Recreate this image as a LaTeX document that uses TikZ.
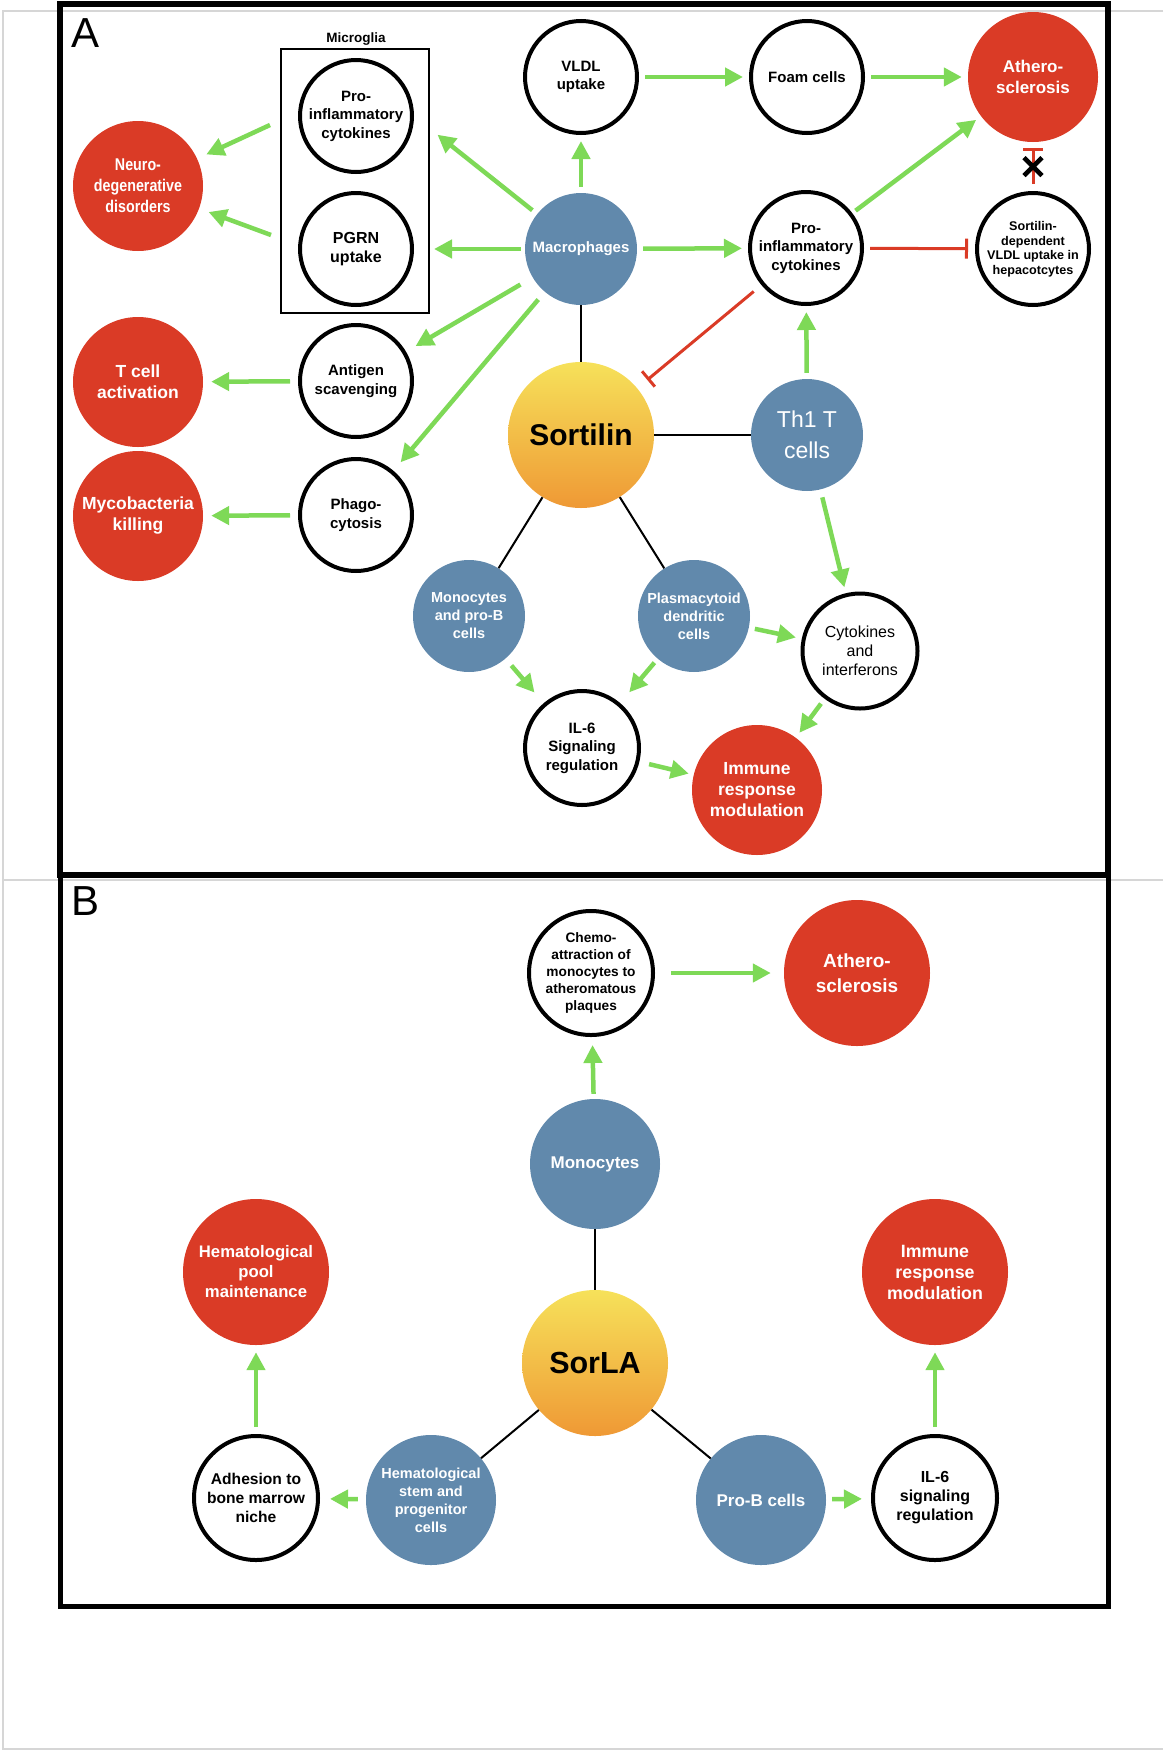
\documentclass[tikz,border=0pt]{standalone}
\usepackage{fontspec}
\setmainfont{Liberation Sans}
\newfontfamily\narrowsans{Liberation Sans}[FakeStretch=0.84]
\usetikzlibrary{arrows.meta}

\definecolor{cellblue}{HTML}{6189AC}
\definecolor{disred}{HTML}{DA3B26}
\definecolor{actgreen}{HTML}{7ED957}
\definecolor{hubtop}{HTML}{F6E15A}
\definecolor{hubbot}{HTML}{EF9935}
\definecolor{pagegray}{HTML}{D6D6D6}

\tikzset{
  effect/.style={circle, draw=black, line width=4pt, fill=white, minimum size=112pt,
    inner sep=0pt, align=center, font=\bfseries\fontsize{15}{18.5}\selectfont},
  cell/.style={circle, fill=cellblue, text=white, minimum size=112pt, inner sep=0pt,
    align=center, font=\bfseries\fontsize{14.5}{18}\selectfont},
  disease/.style={circle, fill=disred, text=white, minimum size=130pt, inner sep=0pt,
    align=center, font=\bfseries\fontsize{17.5}{21}\selectfont},
  hub/.style={circle, top color=hubtop, bottom color=hubbot, minimum size=146pt,
    inner sep=0pt, font=\bfseries\fontsize{30}{36}\selectfont},
  act/.style={draw=actgreen, line width=4.5pt, -{Triangle[length=18pt,width=18pt]},
    shorten <=6pt, shorten >=6pt},
  inh/.style={draw=disred, line width=3pt, -{Bar[width=20pt,line width=3pt]},
    shorten <=6pt, shorten >=6pt},
  link/.style={draw=black, line width=2pt},
  xmark/.style={rectangle, minimum size=15pt, inner sep=0pt},
  panel/.style={anchor=base west, inner sep=0pt, font=\fontsize{42}{48}\selectfont},
}

\begin{document}
\begin{tikzpicture}[x=1pt, y=-1pt]
    \useasboundingbox (0,0) rectangle (1163,1751);

    % page edges of the screenshot
    \draw[pagegray, line width=1.5pt] (1163,11) -- (3,11) -- (3,1749) -- (1163,1749);
    \draw[pagegray, line width=1.5pt] (3,880) -- (1163,880);

    \draw[line width=6pt] (59.5,4) rectangle (1108,874.5);
    \draw[line width=5pt] (60,874.5) rectangle (1108,1606.5);
    \node[panel] (labA) at (71,47) {A};
    \node[panel] (labB) at (71,915) {B};

    % panel A
    \node[font=\bfseries\fontsize{13.5}{16}\selectfont] (mglabel) at (356,39) {Microglia};
    \node[draw, line width=2.5pt, minimum width=148pt, minimum height=264pt, inner sep=0pt]
        (mgbox) at (355,181) {};
    \node[effect] (proinfMG) at (356,116) {Pro-\\inflammatory\\cytokines};
    \node[effect, font=\bfseries\fontsize{16}{19}\selectfont] (pgrn) at (356,249) {PGRN\\uptake};
    \node[effect] (vldl) at (581,77) {VLDL\\uptake};
    \node[effect] (foam) at (807,77) {Foam cells};
    \node[disease, font=\bfseries\fontsize{17}{21}\selectfont] (atheroA) at (1033,77) {Athero-\\sclerosis};
    \node[disease, font=\narrowsans\bfseries\fontsize{17}{21}\selectfont] (neuro) at (138,186)
        {Neuro-\\degenerative\\disorders};
    \node[cell, font=\bfseries\fontsize{15}{18}\selectfont] (macro) at (581,249) {Macrophages};
    \node[effect] (proinf) at (806,248) {Pro-\\inflammatory\\cytokines};
    \node[effect, font=\bfseries\fontsize{12.6}{14.5}\selectfont] (sortdep) at (1033,249)
        {Sortilin-\\dependent\\VLDL uptake in\\hepacotcytes};
    \node[disease] (tcell) at (138,382) {T cell\\activation};
    \node[effect] (antigen) at (356,381) {Antigen\\scavenging};
    \node[hub] (sortilin) at (581,435) {Sortilin};
    \node[cell, font=\fontsize{23}{31}\selectfont] (th1) at (807,435) {Th1 T\\cells};
    \node[disease] (myco) at (138,516) {Mycobacteria\\killing};
    \node[effect] (phago) at (356,515) {Phago-\\cytosis};
    \node[cell] (monoB) at (469,616) {Monocytes\\and pro-B\\cells};
    \node[cell] (pdc) at (694,616) {Plasmacytoid\\dendritic\\cells};
    \node[effect, minimum size=115pt, font=\fontsize{16}{19}\selectfont] (cytoifn) at (860,651)
        {Cytokines\\and\\interferons};
    \node[effect, minimum size=114pt] (ilsixA) at (582,748) {IL-6\\Signaling\\regulation};
    \node[disease] (immuneA) at (757,790) {Immune\\response\\modulation};

    \coordinate (mgA) at (270,125);
    \coordinate (mgB) at (271,235);

    \draw[act, shorten <=0pt, shorten >=10pt] (mgA) -- (neuro);
    \draw[act, shorten <=0pt, shorten >=10pt] (mgB) -- (neuro);
    \draw[act, shorten >=30pt] (macro) -- (proinfMG.east);
    \draw[act, shorten <=4pt, shorten >=20pt] (macro) -- (pgrn);
    \draw[act] (macro) -- (vldl);
    \draw[act, shorten <=14pt, shorten >=11pt] (macro) -- (antigen);
    \draw[act, shorten <=10pt, shorten >=11pt] (macro) -- (phago);
    \draw[act] (macro) -- (proinf);
    \draw[act] (vldl) -- (foam);
    \draw[act] (foam) -- (atheroA);
    \draw[act, shorten <=4pt] (proinf) -- (atheroA);
    \draw[act] (th1) -- (proinf);
    \draw[act, shorten <=8pt] (th1) -- (cytoifn);
    \draw[act] (pdc) -- (cytoifn);
    \draw[act, shorten <=5pt, shorten >=14pt] (pdc) -- (ilsixA);
    \draw[act, shorten <=9pt, shorten >=14pt] (monoB) -- (ilsixA);
    \draw[act] (cytoifn) -- (immuneA);
    \draw[act, shorten <=10pt, shorten >=5pt] (ilsixA) -- (immuneA);
    \draw[act, shorten <=8pt, shorten >=8pt] (antigen) -- (tcell);
    \draw[act, shorten <=8pt, shorten >=8pt] (phago) -- (myco);

    \draw[inh, shorten <=10pt, shorten >=13pt] (proinf) -- (sortilin);
    \draw[inh, shorten >=7pt] (proinf) -- (sortdep);
    \draw[inh, shorten <=7pt] (sortdep) -- node[xmark, pos=0.5] (block) {} (atheroA);
    \draw[line width=4.5pt] (block.north west) -- (block.south east)
        (block.north east) -- (block.south west);

    \draw[link] (macro) -- (sortilin);
    \draw[link] (sortilin) -- (th1);
    \draw[link] (sortilin) -- (monoB);
    \draw[link] (sortilin) -- (pdc);

    % panel B
    \node[effect, minimum size=124pt, font=\bfseries\fontsize{13.7}{16.8}\selectfont] (chemo) at (591,973)
        {Chemo-\\attraction of\\monocytes to\\atheromatous\\plaques};
    \node[disease, minimum size=146pt, font=\bfseries\fontsize{19}{25}\selectfont] (atheroB) at (857,973)
        {Athero-\\sclerosis};
    \node[cell, minimum size=130pt, font=\bfseries\fontsize{17}{20}\selectfont] (mono) at (595,1164) {Monocytes};
    \node[disease, minimum size=146pt, font=\bfseries\fontsize{16.7}{20}\selectfont] (hempool) at (256,1272)
        {Hematological\\pool\\maintenance};
    \node[disease, minimum size=146pt, font=\bfseries\fontsize{17.8}{21}\selectfont] (immuneB) at (935,1272)
        {Immune\\response\\modulation};
    \node[hub, font=\bfseries\fontsize{30.5}{36}\selectfont] (sorla) at (595,1363) {SorLA};
    \node[effect, minimum size=124pt, font=\bfseries\fontsize{15.6}{19}\selectfont] (adhesion) at (256,1498)
        {Adhesion to\\bone marrow\\niche};
    \node[cell, minimum size=130pt] (hemstem) at (431,1500)
        {Hematological\\stem and\\progenitor\\cells};
    \node[cell, minimum size=130pt, font=\bfseries\fontsize{17}{20}\selectfont] (prob) at (761,1500) {Pro-B cells};
    \node[effect, minimum size=124pt, font=\bfseries\fontsize{16}{19}\selectfont] (ilsixB) at (935,1498)
        {IL-6\\signaling\\regulation};

    \draw[act, shorten <=5pt, shorten >=8pt] (mono) -- (chemo);
    \draw[act, shorten <=16pt, shorten >=13pt] (chemo) -- (atheroB);
    \draw[act, shorten <=8pt, shorten >=10pt] (hemstem) -- (adhesion);
    \draw[act, shorten >=9pt] (prob) -- (ilsixB);
    \draw[act, shorten <=7pt, shorten >=7pt] (adhesion) -- (hempool);
    \draw[act, shorten <=7pt, shorten >=7pt] (ilsixB) -- (immuneB);

    \draw[link] (mono) -- (sorla);
    \draw[link] (sorla) -- (hemstem);
    \draw[link] (sorla) -- (prob);
\end{tikzpicture}
\end{document}
